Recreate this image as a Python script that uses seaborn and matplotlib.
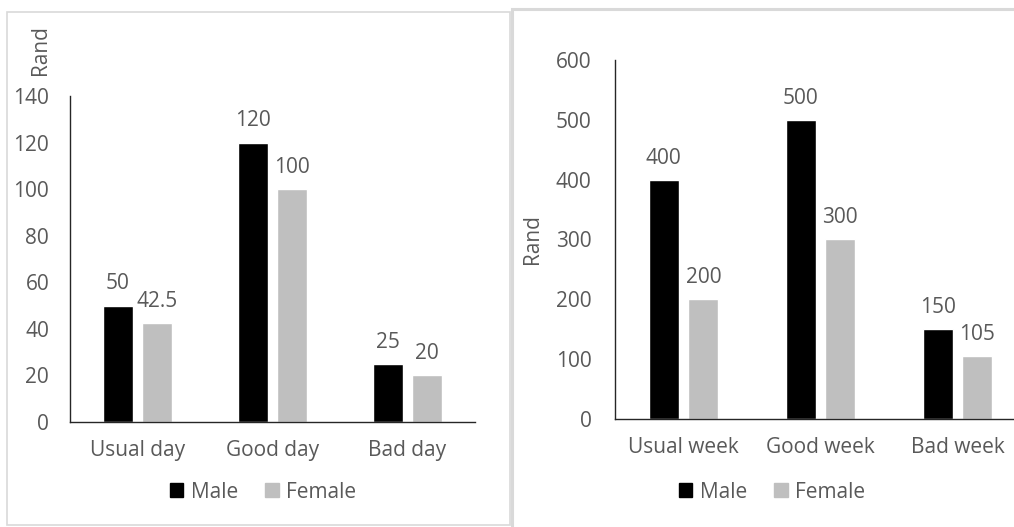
import matplotlib
matplotlib.use("Agg")
import matplotlib.pyplot as plt
import pandas as pd
import seaborn as sns
from matplotlib.patches import Rectangle

# data
day_categories = ["Usual day", "Good day", "Bad day"]
day_male = [50, 120, 25]
day_female = [42.5, 100, 20]

week_categories = ["Usual week", "Good week", "Bad week"]
week_male = [400, 500, 150]
week_female = [200, 300, 105]

sexes = ["Male", "Female"]
day_yticks = [0, 20, 40, 60, 80, 100, 120, 140]
week_yticks = [0, 100, 200, 300, 400, 500, 600]

TEXT = "#595959"
FS = 15
palette = {"Male": "#000000", "Female": "#BFBFBF"}

sns.set_theme(style="white")
plt.rcParams["font.family"] = ["Open Sans", "DejaVu Sans"]
plt.rcParams["font.size"] = FS


def long_frame(cats, male, female):
    rows = []
    for c, m, f in zip(cats, male, female):
        rows.append({"cat": c, "sex": "Male", "val": m})
        rows.append({"cat": c, "sex": "Female", "val": f})
    return pd.DataFrame(rows)


def fmt(v):
    return f"{v:g}"


def draw(ax, df, yticks, ytick_pad, xtick_pad):
    sns.barplot(data=df, x="cat", y="val", hue="sex", hue_order=sexes,
                palette=palette, width=0.58, gap=0.24, ax=ax,
                legend=False, errorbar=None, saturation=1)
    for cont in ax.containers:
        ax.bar_label(cont, labels=[fmt(b.get_height()) for b in cont],
                     padding=8, color=TEXT, fontsize=FS)
    ax.set_ylim(yticks[0], yticks[-1])
    ax.set_yticks(yticks)
    ax.set_xlim(-0.5, 2.5)
    ax.set_xlabel("")
    ax.set_ylabel("")
    for side in ["top", "right"]:
        ax.spines[side].set_visible(False)
    for side in ["left", "bottom"]:
        ax.spines[side].set_color("#262626")
        ax.spines[side].set_linewidth(1.0)
    ax.tick_params(axis="y", length=0, pad=ytick_pad, colors=TEXT, labelsize=FS)
    ax.tick_params(axis="x", length=0, pad=xtick_pad, colors=TEXT, labelsize=FS)


W, H = 1014, 527
fig = plt.figure(figsize=(W / 100, H / 100), dpi=100)

# panel borders
fig.patches.append(Rectangle((7 / W, 1 - 525 / H), 503 / W, 513 / H,
                             transform=fig.transFigure, fill=False,
                             edgecolor="#D9D9D9", linewidth=1.2))
fig.patches.append(Rectangle((512 / W, -0.05), 0.6, 1.05 - 9 / H,
                             transform=fig.transFigure, fill=False,
                             edgecolor="#D9D9D9", linewidth=2.2))

ax1 = fig.add_axes([70 / W, 1 - 422 / H, 405 / W, 326 / H])
draw(ax1, long_frame(day_categories, day_male, day_female), day_yticks, 15, 13)
fig.text(40 / W, 1 - 50 / H, "Rand", rotation=90, ha="center", va="center",
         color=TEXT, fontsize=FS)

ax2 = fig.add_axes([615 / W, 1 - 419 / H, 411 / W, 359 / H])
draw(ax2, long_frame(week_categories, week_male, week_female), week_yticks, 17, 13)
ax2.set_ylabel("Rand", color=TEXT, fontsize=FS, labelpad=9)

handles = [Rectangle((0, 0), 1, 1, color=palette[s]) for s in sexes]
for cx in [263, 772]:
    fig.legend(handles, sexes, loc="center", bbox_to_anchor=(cx / W, 1 - 492 / H),
               ncol=2, frameon=False, handlelength=0.65, handleheight=0.65,
               handletextpad=0.35, columnspacing=1.3, labelcolor=TEXT,
               fontsize=FS)

fig.savefig("out.png", dpi=100)
